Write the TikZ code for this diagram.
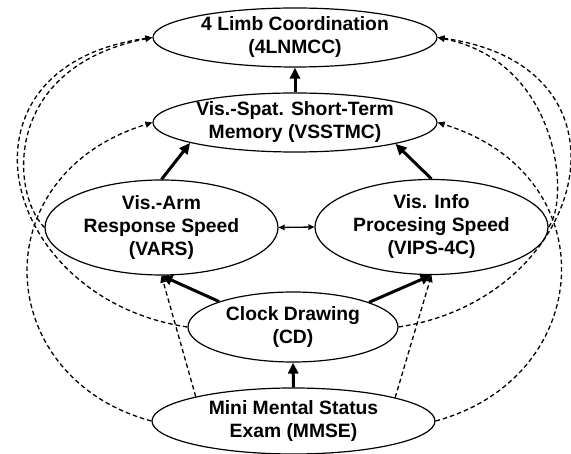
\documentclass[tikz,border=0pt]{standalone}
\usepackage{fontspec}
\setmainfont{Liberation Sans}
\usetikzlibrary{shapes.geometric,arrows.meta}
\begin{document}
\begin{tikzpicture}[x=1pt,y=-1pt,
  ell/.style={draw,ellipse,line width=1.2pt,inner sep=0pt,fill=white},
  txt/.style={font=\fontsize{19.3}{23}\selectfont\bfseries,align=center,inner sep=0pt},
  solidarr/.style={line width=3pt,-{Triangle[length=11pt,width=10pt]}},
  dasharr/.style={line width=1.3pt,dash pattern=on 4.5pt off 3pt,-{Triangle[length=7pt,width=6pt]}},
  dblarr/.style={line width=1.3pt,{Triangle[length=6pt,width=5.5pt]}-{Triangle[length=6pt,width=5.5pt]}}]
\useasboundingbox (0,0) rectangle (571,454);
\node[ell,minimum width=284pt,minimum height=59pt,label={[txt]center:{4 Limb Coordination\\(4LNMCC)}}] (lc) at (295,37.5) {};
\node[ell,minimum width=284pt,minimum height=59pt,label={[txt]center:{Vis.-Spat. Short-Term\\Memory (VSSTMC)}}] (vs) at (295,122.5) {};
\node[ell,minimum width=233pt,minimum height=95pt,label={[txt]center:{Vis.-Arm\\Response Speed\\(VARS)}}] (vars) at (161.5,227.5) {};
\node[ell,minimum width=233pt,minimum height=95pt,label={[txt]center:{Vis. Info\\Procesing Speed\\(VIPS-4C)}}] (vips) at (431.5,227) {};
\node[ell,minimum width=210pt,minimum height=70pt,label={[txt]center:{Clock Drawing\\(CD)}}] (cd) at (293,327) {};
\node[ell,minimum width=283pt,minimum height=66pt,label={[txt]center:{Mini Mental Status\\Exam (MMSE)}}] (mmse) at (293.5,421) {};
% dashed curves, left
\draw[dasharr] (mmse.west) .. controls (-8,378) and (-19,175) .. (vs.west);
\draw[dasharr] (cd.west) .. controls (-2,298.5) and (-57,66.4) .. (lc.west);
\draw[dasharr] (vars.west) .. controls (10,192) and (3,67) .. (lc.west);
% dashed curves, right
\draw[dasharr] (mmse.east) .. controls (595,378) and (609,175) .. (vs.east);
\draw[dasharr] (cd.east) .. controls (588,298.5) and (647,66.4) .. (lc.east);
\draw[dasharr] (vips.east) .. controls (570,200) and (560,62) .. (lc.east);
% dashed straight
\draw[dasharr] (mmse.166.7) -- (vars.south);
\draw[dasharr] (mmse.13.6) -- (vips.south);
% solid
\draw[solidarr] (vs.north) -- (lc.south);
\draw[solidarr] (vars.north) -- (vs.191.8);
\draw[solidarr] (vips.north) -- (vs.348.6);
\draw[solidarr] (cd.161.6) -- (vars.south);
\draw[solidarr] (cd.18.7) -- (vips.south);
\draw[solidarr] (mmse.north) -- (cd.south);
\draw[dblarr] (vars.east) -- (vips.west);
\end{tikzpicture}
\end{document}
